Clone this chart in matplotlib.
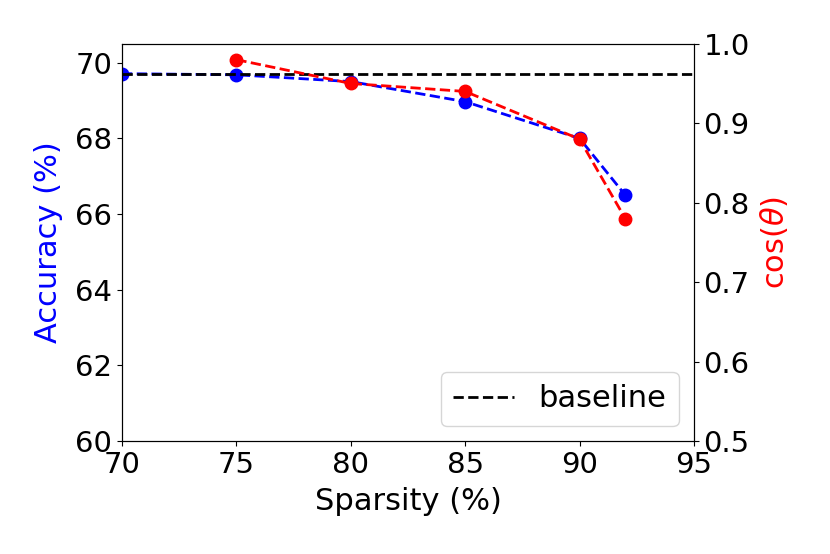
import matplotlib
matplotlib.use('Agg')
import matplotlib.pyplot as plt

sparsity_acc = [70, 75, 80, 85, 90, 92]
accuracy = [69.71, 69.68, 69.5, 68.97, 68.0, 66.5]
sparsity_cos = [75, 80, 85, 90, 92]
cos_theta = [0.98, 0.95, 0.94, 0.88, 0.78]
baseline = 69.7

plt.rcParams['font.size'] = 22
plt.rcParams['xtick.labelsize'] = 21
plt.rcParams['ytick.labelsize'] = 21

fig = plt.figure(figsize=(8.3, 5.54), dpi=100)
ax = fig.add_axes([0.147, 0.204, 0.689, 0.717])
ax.plot(sparsity_acc, accuracy, 'b--o', markersize=9, linewidth=2)
ax.axhline(baseline, color='k', linestyle='--', linewidth=2, label='baseline')
ax.set_xlim(70, 95)
ax.set_ylim(60, 70.5)
ax.set_yticks([60, 62, 64, 66, 68, 70])
ax.set_xlabel('Sparsity (%)', labelpad=6)
ax.set_ylabel('Accuracy (%)', color='blue', labelpad=9)
ax.legend(loc='lower right')

ax2 = ax.twinx()
ax2.plot(sparsity_cos, cos_theta, 'r--o', markersize=9, linewidth=2)
ax2.set_ylim(0.5, 1.0)
ax2.set_ylabel(r'cos($\theta$)', color='red', labelpad=6)

fig.savefig('out.png')
